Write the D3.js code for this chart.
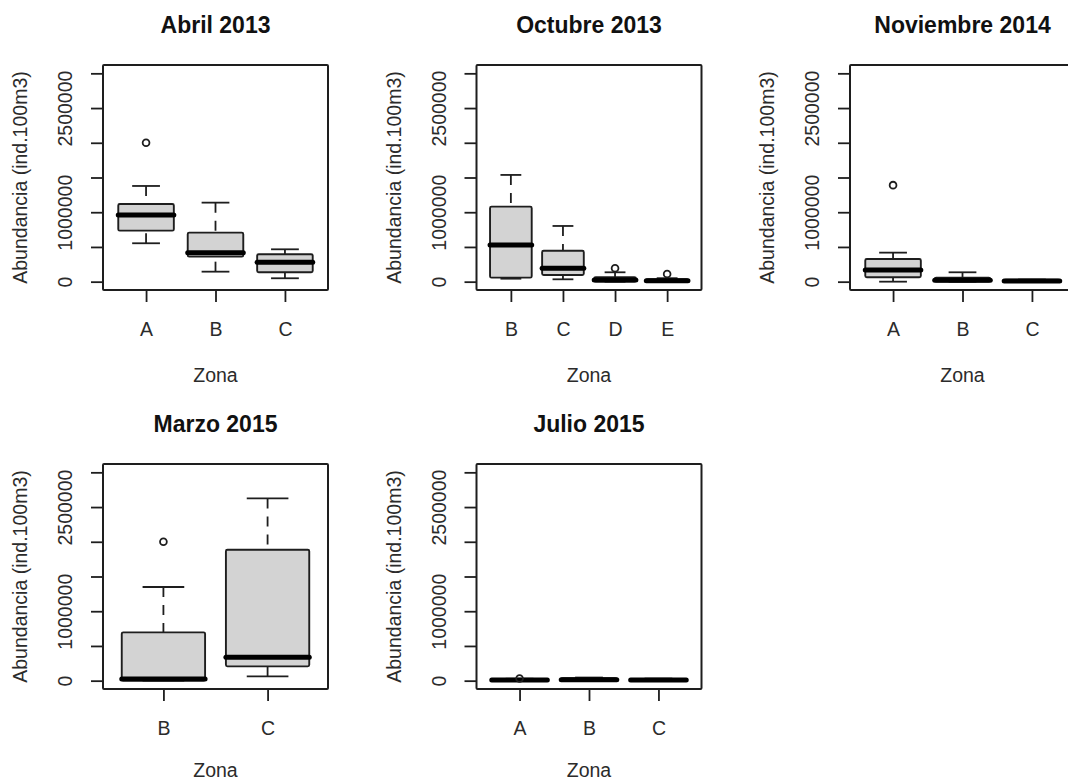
<!DOCTYPE html>
<html>
<head>
<meta charset="utf-8">
<script src="https://cdn.jsdelivr.net/npm/d3@7"></script>
<style>
  html, body { margin: 0; padding: 0; background: #fff; }
  svg { display: block; font-family: "Liberation Sans", Arial, Helvetica, sans-serif; }
</style>
</head>
<body>
<svg id="chart" width="1068" height="783"></svg>
<script>
// ---- Data: five-number summaries [min whisker, Q1, median, Q3, max whisker] and outliers ----
const abril2013Zonas = ["A", "B", "C"];
const abril2013Stats = [
  [553000, 735000, 960000, 1119000, 1378000],
  [144000, 360000, 418000, 706000, 1138000],
  [49000, 135000, 279000, 394000, 466000]
];
const abril2013Outliers = [[2000000], [], []];

const octubre2013Zonas = ["B", "C", "D", "E"];
const octubre2013Stats = [
  [43000, 58000, 528000, 1080000, 1537000],
  [34000, 96000, 193000, 446000, 802000],
  [0, 0, 24000, 63000, 135000],
  [0, 0, 12000, 35000, 50000]
];
const octubre2013Outliers = [[], [], [193000], [111000]];

const noviembre2014Zonas = ["A", "B", "C"];
const noviembre2014Stats = [
  [0, 63000, 168000, 327000, 418000],
  [0, 0, 20000, 58000, 135000],
  [0, 0, 10000, 30000, 30000]
];
const noviembre2014Outliers = [[1390000], [], []];

const marzo2015Zonas = ["B", "C"];
const marzo2015Stats = [
  [0, 0, 24000, 696000, 1349000],
  [62000, 206000, 336000, 1886000, 2625000]
];
const marzo2015Outliers = [[2000000], []];

const julio2015Zonas = ["A", "B", "C"];
const julio2015Stats = [
  [0, 0, 8000, 25000, 28000],
  [0, 2000, 15000, 35000, 45000],
  [0, 0, 8000, 25000, 30000]
];
const julio2015Outliers = [[32000], [], []];

const panelTitles = ["Abril 2013", "Octubre 2013", "Noviembre 2014", "Marzo 2015", "Julio 2015"];
const yTicks = [0, 500000, 1000000, 1500000, 2000000, 2500000, 3000000];
const yTickLabels = [0, 1000000, 2500000];
const yLimits = [0, 3000000];
const yAxisTitle = "Abundancia (ind.100m3)";
const xAxisTitle = "Zona";

// ---- Layout ----
const panels = [
  { title: panelTitles[0], zonas: abril2013Zonas, stats: abril2013Stats, out: abril2013Outliers, col: 0, row: 0 },
  { title: panelTitles[1], zonas: octubre2013Zonas, stats: octubre2013Stats, out: octubre2013Outliers, col: 1, row: 0 },
  { title: panelTitles[2], zonas: noviembre2014Zonas, stats: noviembre2014Stats, out: noviembre2014Outliers, col: 2, row: 0 },
  { title: panelTitles[3], zonas: marzo2015Zonas, stats: marzo2015Stats, out: marzo2015Outliers, col: 0, row: 1 },
  { title: panelTitles[4], zonas: julio2015Zonas, stats: julio2015Stats, out: julio2015Outliers, col: 1, row: 1 }
];

const colX = [103, 476.5, 850];
const rowY = [65, 464];
const zonaOffset = [92, 88];   // x-axis title offset below the frame, per row
const W = 225, H = 225;
const ink = "#1e1e1e";
const textInk = "#2b2b2b";

const svg = d3.select("#chart");

// R-style 4% axis extension
const yPad = (yLimits[1] - yLimits[0]) * 0.04;

panels.forEach(p => {
  const n = p.zonas.length;
  const g = svg.append("g").attr("transform", `translate(${colX[p.col]},${rowY[p.row]})`);

  const xPad = n * 0.04;
  const x = d3.scaleLinear().domain([0.5 - xPad, n + 0.5 + xPad]).range([0, W]);
  const y = d3.scaleLinear().domain([yLimits[0] - yPad, yLimits[1] + yPad]).range([H, 0]);
  const boxW = x(1.4) - x(1);      // half box width (boxwex 0.8)
  const capW = boxW / 2;           // staple half width

  // y axis
  const yAxis = g.append("g")
    .call(d3.axisLeft(y).tickValues(yTicks).tickSize(12).tickSizeOuter(0)
      .tickFormat(d => yTickLabels.includes(d) ? String(d) : ""));
  yAxis.select(".domain").remove();
  yAxis.selectAll(".tick line").attr("stroke", ink).attr("stroke-width", 1.8);
  yAxis.selectAll(".tick text")
    .attr("transform", "rotate(-90)")
    .attr("x", 0).attr("y", -31).attr("dy", 0)
    .attr("text-anchor", "middle")
    .attr("fill", textInk)
    .style("font-size", "19.5px")
    .style("font-family", "'Liberation Sans', Arial, sans-serif");

  // x axis
  const xAxis = g.append("g").attr("transform", `translate(0,${H})`)
    .call(d3.axisBottom(x).tickValues(d3.range(1, n + 1)).tickSize(12).tickSizeOuter(0)
      .tickFormat(i => p.zonas[i - 1]));
  xAxis.select(".domain").remove();
  xAxis.selectAll(".tick line").attr("stroke", ink).attr("stroke-width", 1.8);
  xAxis.selectAll(".tick text")
    .attr("y", 46).attr("dy", 0)
    .attr("fill", textInk)
    .style("font-size", "19.5px")
    .style("font-family", "'Liberation Sans', Arial, sans-serif");

  // boxes
  p.stats.forEach((s, i) => {
    const cx = x(i + 1);
    const bg = g.append("g");
    // whiskers (dashed, from whisker end to box)
    bg.append("line").attr("x1", cx).attr("x2", cx).attr("y1", y(s[4])).attr("y2", y(s[3]))
      .attr("stroke", ink).attr("stroke-width", 1.8).attr("stroke-dasharray", "10,8");
    bg.append("line").attr("x1", cx).attr("x2", cx).attr("y1", y(s[0])).attr("y2", y(s[1]))
      .attr("stroke", ink).attr("stroke-width", 1.8).attr("stroke-dasharray", "10,8");
    // staples
    [s[0], s[4]].forEach(v => {
      bg.append("line").attr("x1", cx - capW).attr("x2", cx + capW).attr("y1", y(v)).attr("y2", y(v))
        .attr("stroke", ink).attr("stroke-width", 1.8);
    });
    // box
    bg.append("rect")
      .attr("x", cx - boxW).attr("width", 2 * boxW)
      .attr("y", y(s[3])).attr("height", Math.max(0, y(s[1]) - y(s[3])))
      .attr("rx", 1.5)
      .attr("fill", "#d3d3d3").attr("stroke", ink).attr("stroke-width", 1.9);
    // median
    bg.append("line").attr("x1", cx - boxW).attr("x2", cx + boxW).attr("y1", y(s[2])).attr("y2", y(s[2]))
      .attr("stroke", "#000").attr("stroke-width", 5).attr("stroke-linecap", "round");
    // outliers
    p.out[i].forEach(v => {
      bg.append("circle").attr("cx", cx).attr("cy", y(v)).attr("r", 3.4)
        .attr("fill", "none").attr("stroke", ink).attr("stroke-width", 1.8);
    });
  });

  // frame
  g.append("rect").attr("x", 0).attr("y", 0).attr("width", W).attr("height", H)
    .attr("fill", "none").attr("stroke", ink).attr("stroke-width", 2).attr("rx", 1);

  // titles
  g.append("text").attr("x", W / 2).attr("y", -32).attr("text-anchor", "middle")
    .attr("fill", "#111").style("font-size", "23px").style("font-weight", "bold")
    .text(p.title);
  g.append("text").attr("x", W / 2).attr("y", H + zonaOffset[p.row]).attr("text-anchor", "middle")
    .attr("fill", textInk).style("font-size", "19.5px")
    .text(xAxisTitle);
  g.append("text").attr("transform", `translate(-76,${H / 2}) rotate(-90)`)
    .attr("text-anchor", "middle").attr("fill", textInk).style("font-size", "19.5px")
    .text(yAxisTitle);
});
</script>
</body>
</html>
